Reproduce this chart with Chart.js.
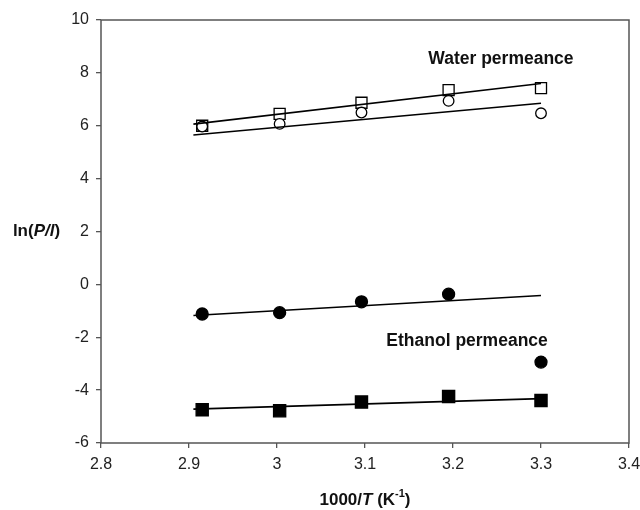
<!DOCTYPE html>
<html>
<head>
<meta charset="utf-8">
<script src="https://cdn.jsdelivr.net/npm/chart.js@4/dist/chart.umd.min.js"></script>
<style>
  html, body { margin: 0; padding: 0; background: #fff; }
</style>
</head>
<body>
<canvas id="plot" width="640" height="510"></canvas>
<script>
// 1000/T for 70, 60, 50, 40, 30 degC
const invT = [2.915, 3.003, 3.096, 3.195, 3.300];

// water flux, two membranes
const waterOpenSq = [6.0, 6.45, 6.87, 7.35, 7.42];
const waterOpenCirc = [5.97, 6.07, 6.5, 6.94, 6.47];

// ethanol flux, two membranes
const ethFilledCirc = [-1.12, -1.07, -0.66, -0.37, -2.94];
const ethFilledSq = [-4.74, -4.78, -4.45, -4.24, -4.39];

// trend lines (ends)
const fitX = [2.905, 3.3];
const waterSqFit = [6.06, 7.6];
const waterCircFit = [5.65, 6.85];
const ethCircFit = [-1.18, -0.42];
const ethSqFit = [-4.72, -4.32];

const xTicks = [2.8, 2.9, 3.0, 3.1, 3.2, 3.3, 3.4];
const yTicks = [-6, -4, -2, 0, 2, 4, 6, 8, 10];

const FONT = '"Liberation Sans", Arial, sans-serif';

function pts(xs, ys){
    return xs.map((x, i) => ({x: x, y: ys[i]}));
}

function markers(ys, style, filled, r){
    return {
        data: pts(invT, ys),
        showLine: false,
        pointStyle: style,
        pointRadius: r,
        pointHoverRadius: r,
        pointBackgroundColor: filled ? '#000' : '#fff',
        pointBorderColor: '#000',
        pointBorderWidth: 1.3
    };
}

function trend(ys){
    return {
        data: pts(fitX, ys),
        showLine: true,
        borderColor: '#000',
        borderWidth: 1.6,
        pointRadius: 0,
        fill: false
    };
}

// draws a run of text pieces with their own font styles
function drawPieces(ctx, pieces, cx, cy){
    let total = 0;
    pieces.forEach(p => { ctx.font = p.font; p.w = ctx.measureText(p.t).width; total += p.w; });
    let x = cx - total / 2;
    pieces.forEach(p => {
        ctx.font = p.font;
        ctx.fillText(p.t, x, cy + (p.dy || 0));
        x += p.w;
    });
}

const extras = {
    id: 'extras',
    afterDatasetsDraw(chart){
        const ctx = chart.ctx;
        const a = chart.chartArea;
        const xs = chart.scales.x, ys = chart.scales.y;
        ctx.save();
        // box round the plot
        ctx.strokeStyle = '#555';
        ctx.lineWidth = 1.5;
        ctx.strokeRect(a.left, a.top, a.right - a.left, a.bottom - a.top);

        ctx.fillStyle = '#111';
        ctx.textBaseline = 'middle';
        ctx.textAlign = 'center';
        ctx.font = 'bold 17.5px ' + FONT;
        ctx.fillText('Water permeance', xs.getPixelForValue(3.2545), ys.getPixelForValue(8.52));
        ctx.fillText('Ethanol permeance', xs.getPixelForValue(3.216), ys.getPixelForValue(-2.14));

        ctx.textAlign = 'left';
        const b = 'bold 17px ' + FONT;
        const bi = 'italic bold 17px ' + FONT;
        drawPieces(ctx, [
            {t: 'ln(', font: b}, {t: 'P/l', font: bi}, {t: ')', font: b}
        ], 36.5, ys.getPixelForValue(2));
        drawPieces(ctx, [
            {t: '1000/', font: b}, {t: 'T', font: bi}, {t: ' (K', font: b},
            {t: '-1', font: 'bold 11px ' + FONT, dy: -6}, {t: ')', font: b}
        ], (a.left + a.right) / 2, 500);
        ctx.restore();
    }
};

new Chart(document.getElementById('plot'), {
    type: 'scatter',
    data: {
        datasets: [
            trend(waterSqFit),
            trend(waterCircFit),
            trend(ethCircFit),
            trend(ethSqFit),
            markers(waterOpenCirc, 'circle', false, 5.3),
            markers(waterOpenSq, 'rect', false, 7.8),
            markers(ethFilledCirc, 'circle', true, 6),
            markers(ethFilledSq, 'rect', true, 8.6)
        ]
    },
    options: {
        responsive: false,
        animation: false,
        devicePixelRatio: 1,
        layout: { padding: { top: 20, right: 11, left: 0, bottom: 0 } },
        plugins: {
            legend: { display: false },
            tooltip: { enabled: false }
        },
        scales: {
            x: {
                type: 'linear',
                min: 2.8,
                max: 3.4,
                afterBuildTicks: s => { s.ticks = xTicks.map(v => ({value: v})); },
                // let the last label hang past the plot edge
                afterFit: s => { s.height = 67; s.paddingRight = 0; s.paddingLeft = 0; },
                grid: { drawOnChartArea: false, drawTicks: true, tickLength: 5, color: '#555', lineWidth: 1.3 },
                border: { display: false },
                ticks: {
                    color: '#222',
                    padding: 7,
                    font: { family: FONT, size: 16 },
                    callback: v => String(Math.round(v * 10) / 10)
                }
            },
            y: {
                type: 'linear',
                min: -6,
                max: 10,
                afterBuildTicks: s => { s.ticks = yTicks.map(v => ({value: v})); },
                afterFit: s => { s.width = 101; },
                grid: { drawOnChartArea: false, drawTicks: true, tickLength: 5, color: '#555', lineWidth: 1.3 },
                border: { display: false },
                ticks: {
                    color: '#222',
                    padding: 7,
                    font: { family: FONT, size: 16 }
                }
            }
        }
    },
    plugins: [extras]
});
</script>
</body>
</html>
